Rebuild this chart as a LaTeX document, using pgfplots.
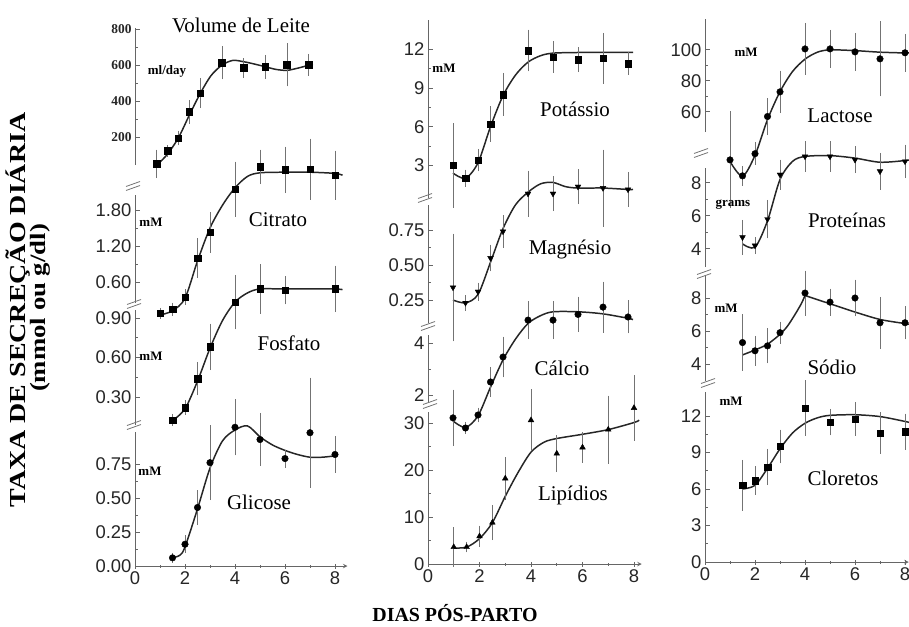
\documentclass[border=0pt]{standalone}
\usepackage{fontspec}
\setmainfont{Liberation Serif}
\newfontfamily\sansf{Liberation Sans}
\usepackage{pgfplots}
\pgfplotsset{compat=1.18}

\newcommand{\tickf}{\sansf\fontsize{18.5}{18.5}\selectfont}
\newcommand{\titlef}{\fontsize{21}{21}\selectfont}
\newcommand{\unitf}{\bfseries\fontsize{13}{13}\selectfont}
% break mark "//" on an axis line, image coordinates
\newcommand{\brk}[2]{\draw[shift={(#1bp,-#2bp)}, black!55, line width=0.8pt] (-7bp,-4.5bp)--(7bp,0.5bp) (-7bp,-0.5bp)--(7bp,4.5bp);}

\pgfplotsset{
  panel/.style={
    anchor=south west, clip=false, xmin=0, xmax=8,
    axis y line=left,
    axis line style={-, line width=1pt, black!60},
    tick style={black!60, line width=0.8pt},
    tick align=inside, major tick length=5bp, minor tick length=3bp,
    minor y tick num=1,
    yticklabel style={font=\tickf, black!85},
    xticklabel style={font=\tickf, black!85},
  },
  upper/.style={axis x line=none},
  bottom/.style={axis x line=bottom, xtick={0,2,4,6,8}, xticklabels={0,2,4,6,8}, minor x tick num=1},
  fit/.style={smooth, line width=1.5pt, black!85},
  pts/.style={only marks, black, mark size=3.3pt,
    error bars/y dir=both, error bars/y explicit,
    error bars/error bar style={line width=0.6pt, black!55},
    error bars/error mark options={mark size=3.5bp, line width=0.6pt, black!55}},
}

\begin{document}
\begin{tikzpicture}

% ---------------- column 1 ----------------
\begin{axis}[panel, upper, at={(135bp,-165bp)}, x=21.7bp, y=0.18bp, ymin=44, ymax=806,
  ytick={200,400,600,800}, yticklabels={200,400,600,800},
  yticklabel style={font=\bfseries\fontsize{13.5}{13.5}\selectfont}]
\addplot[fit] coordinates {(0.9,35) (1,42) (1.5,105) (2,195) (2.5,320) (3,440) (3.5,540) (4,598) (4.5,625) (5,618) (5.5,605) (6,590) (6.5,575) (7,570) (7.5,582) (8,598) (8.2,603)};
\addplot[mark=square*, pts] table[y error=e] {
x y e
1 50 60
1.5 122 15
2 194 22
2.5 339 45
3 444 65
4 611 72
5 583 35
6 589 48
7 600 100
8 600 42
};
\end{axis}

\begin{axis}[panel, upper, at={(135bp,-303bp)}, x=25bp, y=60bp, ymin=0.25, ymax=2.05,
  ytick={0.6,1.2,1.8}, yticklabels={0.60,1.20,1.80}]
\addplot[fit] coordinates {(1,0.05) (1.5,0.12) (2,0.33) (2.5,0.95) (3,1.5) (3.5,1.88) (4,2.17) (4.5,2.36) (5,2.42) (6,2.43) (7,2.43) (8,2.41) (8.3,2.38)};
\addplot[mark=square*, pts] table[y error=e] {
x y e
1 0.08 0.03
1.5 0.15 0.05
2 0.35 0.07
2.5 1.0 0.27
3 1.43 0.28
4 2.15 0.4
5 2.52 0.23
6 2.47 0.33
7 2.48 0.45
8 2.38 0.35
};
\end{axis}

\begin{axis}[panel, upper, at={(135bp,-425bp)}, x=25bp, y=131.7bp, ymin=0.087, ymax=0.96,
  ytick={0.3,0.6,0.9}, yticklabels={0.30,0.60,0.90}]
\addplot[fit] coordinates {(1.5,0.12) (2,0.21) (2.5,0.42) (3,0.67) (3.5,0.88) (4,1.02) (4.5,1.09) (5,1.12) (6,1.12) (7,1.12) (8,1.12) (8.3,1.115)};
\addplot[mark=square*, pts] table[y error=e] {
x y e
1.5 0.125 0.02
2 0.22 0.03
2.5 0.44 0.1
3 0.68 0.15
4 1.02 0.18
5 1.12 0.16
6 1.11 0.08
8 1.12 0.15
};
\end{axis}

\begin{axis}[panel, bottom, at={(135bp,-566bp)}, x=25bp, y=136bp, ymin=0, ymax=0.985, xmax=8.5,
  ytick={0,0.25,0.5,0.75}, yticklabels={0.00,0.25,0.50,0.75}]
\addplot[fit] coordinates {(1.5,0.06) (1.8,0.08) (2,0.14) (2.5,0.42) (3,0.72) (3.5,0.92) (4,1.0) (4.5,1.03) (5,0.95) (5.5,0.89) (6,0.85) (6.5,0.82) (7,0.8) (7.5,0.8) (8,0.81)};
\addplot[mark=*, pts] table[y error=e] {
x y e
1.5 0.06 0.01
2 0.16 0.04
2.5 0.43 0.1
3 0.76 0.25
4 1.02 0.18
5 0.93 0.17
6 0.79 0.04
7 0.98 0.38
8 0.82 0.11
};
\end{axis}

% ---------------- column 2 ----------------
\begin{axis}[panel, upper, at={(428bp,-198bp)}, x=25bp, y=12.9bp, ymin=0.47, ymax=14.3,
  ytick={3,6,9,12}, yticklabels={3,6,9,12}]
\addplot[fit] coordinates {(1,2.4) (1.5,2.0) (2,3.2) (2.5,6.0) (3,8.4) (3.5,10.0) (4,11.0) (4.5,11.5) (5,11.7) (6,11.75) (7,11.75) (8,11.75) (8.2,11.75)};
\addplot[mark=square*, pts] table[y error=e] {
x y e
1 3.0 3.0
1.5 2.0 0.4
2 3.4 0.6
2.5 6.2 1.1
3 8.5 1.4
4 11.9 1.35
5 11.4 0.95
6 11.2 0.7
7 11.3 1.7
8 10.9 0.6
};
\end{axis}

\begin{axis}[panel, upper, at={(428bp,-323bp)}, x=25bp, y=140bp, ymin=0.086, ymax=0.93,
  ytick={0.25,0.5,0.75}, yticklabels={0.25,0.50,0.75}]
\addplot[fit] coordinates {(1,0.25) (1.5,0.23) (2,0.29) (2.5,0.52) (3,0.76) (3.5,0.93) (4,1.02) (4.5,1.08) (5,1.09) (5.5,1.06) (6,1.05) (7,1.05) (8,1.04) (8.2,1.04)};
\addplot[mark=triangle*, mark options={rotate=180}, pts] table[y error=e] {
x y e
1 0.34 0.36
1.5 0.23 0.03
2 0.31 0.04
2.5 0.55 0.07
3 0.74 0.09
4 1.01 0.14
5 1.01 0.1
6 1.06 0.1
7 1.05 0.25
8 1.04 0.1
};
\end{axis}

\begin{axis}[panel, upper, at={(428bp,-402bp)}, x=25bp, y=26bp, ymin=1.73, ymax=4.3,
  ytick={2,4}, yticklabels={2,4}]
\addplot[fit] coordinates {(1,1.0) (1.5,0.75) (2,1.2) (2.5,2.3) (3,3.35) (3.5,4.15) (4,4.75) (4.5,5.05) (5,5.2) (6,5.2) (7,5.12) (8,4.95) (8.2,4.9)};
\addplot[mark=*, pts] table[y error=e] {
x y e
1 1.12 0.95
1.5 0.73 0.1
2 1.23 0.15
2.5 2.5 0.45
3 3.46 0.65
4 4.88 0.6
5 4.88 0.6
6 5.1 0.55
7 5.38 0.85
8 5.0 0.5
};
\end{axis}

\begin{axis}[panel, bottom, at={(428bp,-564bp)}, x=25.75bp, y=4.7bp, ymin=0, ymax=32.3, xmax=8.3,
  ytick={0,10,20,30}, yticklabels={0,10,20,30}]
\addplot[fit] coordinates {(1,3.4) (1.5,3.6) (2,5.4) (2.5,8.8) (3,14.4) (3.5,19.5) (4,23.8) (4.5,25.9) (5,26.7) (6,27.6) (7,28.6) (8,30.1) (8.2,30.6)};
\addplot[mark=triangle*, pts] table[y error=e] {
x y e
1 3.6 3.5
1.5 3.6 0.4
2 5.9 1.5
2.5 8.8 3
3 18.2 3.8
4 30.6 5.8
5 23.5 3.2
6 24.8 2.5
7 28.6 6.5
8 33.2 6.2
};
\end{axis}

% ---------------- column 3 ----------------
\begin{axis}[panel, upper, at={(705bp,-132bp)}, x=25bp, y=1.55bp, ymin=47, ymax=120,
  ytick={60,80,100}, yticklabels={60,80,100}]
\addplot[fit] coordinates {(1,28) (1.5,18.5) (2,32) (2.5,55) (3,73) (3.5,86) (4,94) (4.5,98.5) (5,100) (6,99.5) (7,98.5) (8,98) (8.2,98)};
\addplot[mark=*, pts] table[y error=e] {
x y e
1 29 29
1.5 18.7 4
2 33 5
2.5 57 9.5
3 72.9 11.5
4 100.6 14.5
5 100.6 10
6 98.7 10
7 94.2 22
8 98.1 10
};
\end{axis}

\begin{axis}[panel, upper, at={(705bp,-267bp)}, x=25bp, y=16.5bp, ymin=2.9, ymax=8.9,
  ytick={4,6,8}, yticklabels={4,6,8}]
\addplot[fit] coordinates {(1.5,4.3) (2,4.1) (2.5,5.7) (3,8.2) (3.5,9.3) (4,9.6) (5,9.65) (6,9.5) (7,9.25) (8,9.35) (8.2,9.4)};
\addplot[mark=triangle*, mark options={rotate=180}, pts] table[y error=e] {
x y e
1.5 4.7 0.85
2 4.2 0.3
2.5 5.8 0.95
3 8.5 0.7
4 9.6 0.7
5 9.6 0.7
6 9.4 0.6
7 8.7 0.9
8 9.3 0.8
};
\end{axis}

\begin{axis}[panel, upper, at={(705bp,-380.5bp)}, x=25bp, y=16.5bp, ymin=3.0, ymax=9.4,
  ytick={4,6,8}, yticklabels={4,6,8}]
\addplot[fit] coordinates {(1.5,4.55) (2,4.85) (2.5,5.2) (3,5.8) (3.3,6.3) (3.6,7.0) (3.85,7.65) (4,8.15)};
\addplot[fit] coordinates {(4,8.15) (4.5,7.9) (5,7.65) (6,7.15) (7,6.7) (8,6.45) (8.2,6.4)};
\addplot[mark=*, pts] table[y error=e] {
x y e
1.5 5.3 1.5
2 4.8 0.7
2.5 5.1 0.85
3 5.9 0.45
4 8.3 1.15
5 7.75 0.6
6 8.0 0.9
7 6.5 1.35
8 6.5 0.8
};
\end{axis}

\begin{axis}[panel, bottom, at={(705bp,-562bp)}, x=25bp, y=12.17bp, ymin=0, ymax=14, xmax=8.15,
  ytick={0,3,6,9,12}, yticklabels={0,3,6,9,12}]
\addplot[fit] coordinates {(1.5,6.0) (2,6.3) (2.5,7.7) (3,9.3) (3.5,10.6) (4,11.4) (4.5,11.85) (5,12.05) (6,12.1) (7,11.95) (8,11.55) (8.2,11.45)};
\addplot[mark=square*, pts] table[y error=e] {
x y e
1.5 6.3 1.8
2 6.7 0.9
2.5 7.8 1.2
3 9.5 1.1
4 12.65 2.0
5 11.5 0.8
6 11.75 1.1
7 10.6 1.4
8 10.7 1.2
};
\end{axis}

% axis breaks
\brk{133}{186}\brk{134}{304}\brk{134}{425}
\brk{425}{198}\brk{428}{326}\brk{430}{404}
\brk{701}{153}\brk{704}{274}\brk{708}{383}

% panel titles
\node[font=\titlef] at (241bp,-25bp) {Volume de Leite};
\node[font=\titlef] at (278bp,-220bp) {Citrato};
\node[font=\titlef] at (289bp,-343bp) {Fosfato};
\node[font=\titlef] at (259bp,-502bp) {Glicose};
\node[font=\titlef] at (575bp,-109bp) {Potássio};
\node[font=\titlef] at (570bp,-249bp) {Magnésio};
\node[font=\titlef] at (562bp,-368bp) {Cálcio};
\node[font=\titlef] at (573bp,-495bp) {Lipídios};
\node[font=\titlef] at (840bp,-116bp) {Lactose};
\node[font=\titlef] at (847bp,-220bp) {Proteínas};
\node[font=\titlef] at (832bp,-367bp) {Sódio};
\node[font=\titlef] at (843bp,-478bp) {Cloretos};

% unit labels
\node[font=\unitf] at (167bp,-71bp) {ml/day};
\node[font=\unitf] at (151bp,-222bp) {mM};
\node[font=\unitf] at (151bp,-356bp) {mM};
\node[font=\unitf] at (150bp,-471bp) {mM};
\node[font=\unitf] at (444bp,-68bp) {mM};
\node[font=\unitf] at (746bp,-52bp) {mM};
\node[font=\unitf] at (733bp,-205bp) {grams};
\node[font=\unitf] at (726bp,-308bp) {mM};
\node[font=\unitf] at (731bp,-401bp) {mM};

% axis titles
\node[rotate=90, inner sep=0pt, font=\bfseries\fontsize{23}{23}\selectfont] at (18bp,-310bp) {\scalebox{1.22}[1]{TAXA DE SECREÇÃO DIÁRIA}};
\node[rotate=90, inner sep=0pt, font=\bfseries\fontsize{22}{22}\selectfont] at (40bp,-308bp) {\scalebox{1.22}[1]{(mmol ou g/dl)}};
\node[font=\bfseries\fontsize{20}{20}\selectfont] at (455bp,-613bp) {DIAS PÓS-PARTO};

\pgfresetboundingbox
\path[use as bounding box] (0,0) rectangle (909bp,-627bp);
\end{tikzpicture}
\end{document}
